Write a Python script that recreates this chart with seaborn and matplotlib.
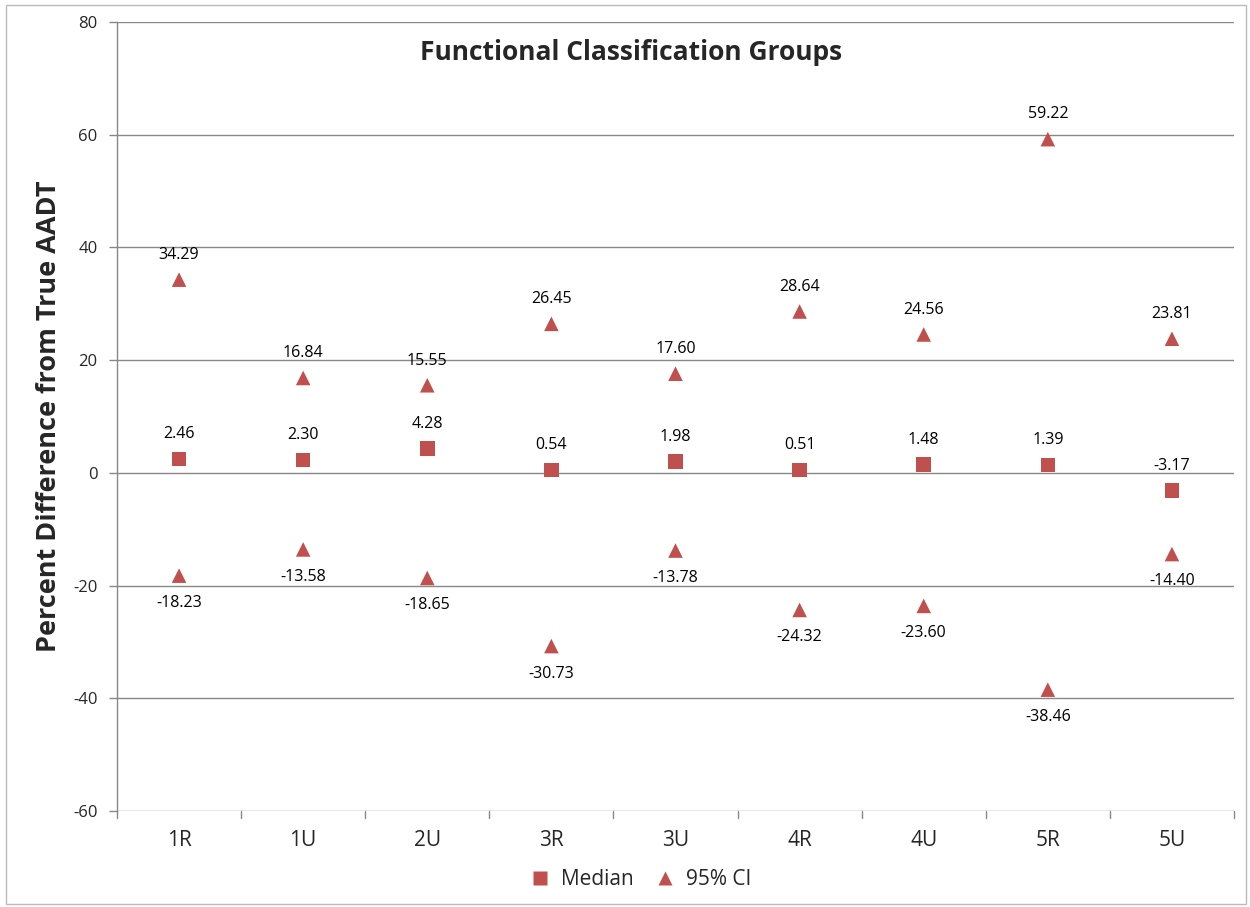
import matplotlib
matplotlib.use("Agg")
import matplotlib.pyplot as plt
import seaborn as sns
import pandas as pd
from matplotlib.patches import Rectangle

categories = ["1R", "1U", "2U", "3R", "3U", "4R", "4U", "5R", "5U"]
median = [2.46, 2.30, 4.28, 0.54, 1.98, 0.51, 1.48, 1.39, -3.17]
ci_upper = [34.29, 16.84, 15.55, 26.45, 17.60, 28.64, 24.56, 59.22, 23.81]
ci_lower = [-18.23, -13.58, -18.65, -30.73, -13.78, -24.32, -23.60, -38.46, -14.40]
y_ticks = [-60, -40, -20, 0, 20, 40, 60, 80]

sns.set_theme(style="white")
plt.rcParams['font.family'] = ['Open Sans', 'DejaVu Sans']

color = "#C0504D"
rows = []
for c, m, u, l in zip(categories, median, ci_upper, ci_lower):
    rows.append({"cat": c, "val": m, "series": "Median", "pos": "above"})
    rows.append({"cat": c, "val": u, "series": "95% CI", "pos": "above"})
    rows.append({"cat": c, "val": l, "series": "95% CI", "pos": "below"})
df = pd.DataFrame(rows)

fig = plt.figure(figsize=(12.5, 9.07), dpi=100)
ax = fig.add_axes([0.0936, 0.1058, 0.8936, 0.8699])

sns.scatterplot(data=df, x="cat", y="val", hue="series", style="series",
                markers={"Median": "s", "95% CI": "^"},
                palette={"Median": color, "95% CI": color},
                s=110, edgecolor="none", ax=ax, legend=True, zorder=3)

xpos = {c: i for i, c in enumerate(categories)}
for _, r in df.iterrows():
    off = 12 if r["pos"] == "above" else -14
    va = "bottom" if r["pos"] == "above" else "top"
    ax.annotate(f"{r['val']:.2f}", (xpos[r["cat"]], r["val"]),
                xytext=(0, off), textcoords="offset points",
                ha="center", va=va, fontsize=11.5, color="black")

ax.set_xlim(-0.5, len(categories) - 0.5)
ax.set_ylim(-60, 80)
ax.set_yticks(y_ticks)
ax.set_yticklabels([str(v) for v in y_ticks], fontsize=12)
ax.set_xticks(range(len(categories)))
ax.set_xticklabels(categories, fontsize=15)
ax.tick_params(axis="x", length=0, pad=14)
ax.tick_params(axis="y", length=6, direction="out", color="#888888", width=1, left=True, pad=8)
for v in y_ticks:
    ax.axhline(v, color="#888888", lw=1, zorder=0)
for i in range(len(categories) + 1):
    ax.plot([i - 0.5, i - 0.5], [0, -0.009], transform=ax.get_xaxis_transform(),
            color="#888888", lw=1, clip_on=False)

for s in ["top", "right", "bottom"]:
    ax.spines[s].set_visible(False)
ax.spines["left"].set_color("#888888")
ax.spines["left"].set_linewidth(1)

ax.set_xlabel("")
ax.set_ylabel("Percent Difference from True AADT", fontsize=19.5, fontweight="bold", labelpad=8)
ax.text(0.460, 0.978, "Functional Classification Groups", transform=ax.transAxes,
        ha="center", va="top", fontsize=19, fontweight="bold")

leg = ax.legend(loc="upper center", bbox_to_anchor=(0.464, -0.05), ncol=2, frameon=False,
                fontsize=15, handletextpad=0.0, columnspacing=0.5, markerscale=1.0)

fig.patches.append(Rectangle((0.005, 0.003), 0.992, 0.992, transform=fig.transFigure,
                             fill=False, edgecolor="#BBBBBB", lw=1))

fig.savefig("out.png", dpi=100)
